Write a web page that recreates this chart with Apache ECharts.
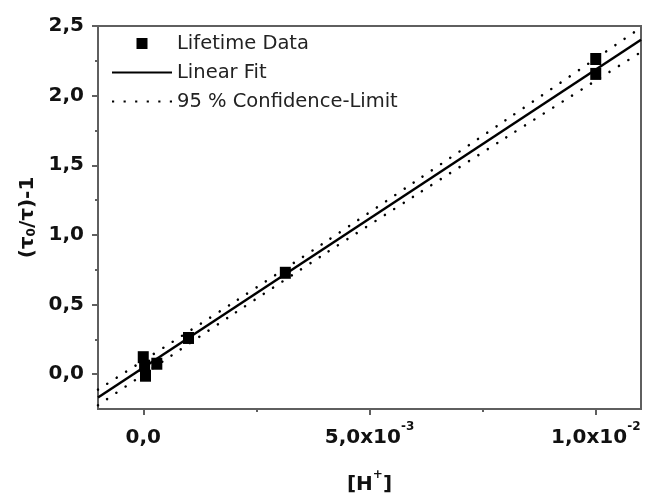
<!DOCTYPE html>
<html lang="en">
<head>
    <meta charset="UTF-8">
    <title>Lifetime fit</title>
    <script src="https://cdn.jsdelivr.net/npm/echarts@6/dist/echarts.min.js"></script>
    <style>
        html, body { margin: 0; padding: 0; background: #fff; }
        #main { width: 646px; height: 494px; }
    </style>
</head>
<body>
<div id="main"></div>
<script>
    // measured points (x = [H+], y = tau0/tau - 1)
    var dataX = [0, 0.00003, 0.00005, 0.0003, 0.001, 0.00314, 0.01, 0.01];
    var dataY = [0.122, 0.061, -0.011, 0.075, 0.26, 0.728, 2.263, 2.156];

    // fit line, read at both plot edges
    var fitX = [-0.001, 0.011];
    var fitY = [-0.167, 2.401];

    // 95 % limits
    var confX = [-0.001, 0, 0.002, 0.004, 0.006, 0.008, 0.01, 0.011];
    var confUpper = [-0.111, 0.097, 0.516, 0.944, 1.381, 1.822, 2.266, 2.489];
    var confLower = [-0.223, -0.003, 0.434, 0.862, 1.281, 1.696, 2.108, 2.313];

    var xTicks = [0, 0.005, 0.01];
    var xMinorTicks = [0.0025, 0.0075];
    var xTickLabels = ['0,0', '5,0x10{sup|-3}', '1,0x10{sup|-2}'];
    var yTicks = [0, 0.5, 1, 1.5, 2, 2.5];
    var yMinorTicks = [0.25, 0.75, 1.25, 1.75, 2.25];

    function zip(xs, ys) {
        var out = [];
        for (var i = 0; i < xs.length; i++) out.push([xs[i], ys[i]]);
        return out;
    }

    var axisColor = '#5f5f5f';
    var textColor = '#111';
    var font = 'DejaVu Sans';
    var supStyle = {fontFamily: font, fontWeight: 'bold', fontSize: 12, color: textColor, verticalAlign: 'top', lineHeight: 12};

    // legend glyphs: square, solid stroke, row of dots
    var iconSquare = 'path://M0,0L10,0L10,10L0,10Z';
    var iconSolid = 'path://M0,0h59v2.2h-59z';
    var iconDots = 'path://M0,0h2.2v2.2h-2.2z M11.7,0h2.2v2.2h-2.2z M23.4,0h2.2v2.2h-2.2z M35.1,0h2.2v2.2h-2.2z M46.8,0h2.2v2.2h-2.2z M58.5,0h2.2v2.2h-2.2z';

    var myChart = echarts.init(document.getElementById('main'), null, {renderer: 'canvas'});

    var option = {
        animation: false,
        backgroundColor: '#fff',
        grid: {
            left: 98, right: 5, top: 26, bottom: 85,
            show: true, borderColor: axisColor, borderWidth: 2,
            containLabel: false,
            outerBoundsMode: 'none'
        },
        legend: {
            orient: 'vertical',
            left: 107, top: 26,
            itemWidth: 60, itemHeight: 11, itemGap: 4,
            textStyle: {fontFamily: font, fontSize: 19.5, color: '#222', lineHeight: 25},
            data: [
                {name: 'Lifetime Data', icon: iconSquare, itemStyle: {color: '#000', opacity: 1}},
                {name: 'Linear Fit', icon: iconSolid, itemStyle: {color: '#000', opacity: 1}},
                {name: '95 % Confidence-Limit', icon: iconDots, itemStyle: {color: '#000', opacity: 1}}
            ]
        },
        xAxis: [{
            type: 'value',
            min: -0.001, max: 0.011,
            splitLine: {show: false},
            axisLine: {onZero: false, lineStyle: {color: axisColor, width: 2}},
            axisTick: {customValues: xTicks, length: 6, lineStyle: {color: axisColor, width: 2}},
            axisLabel: {
                customValues: xTicks,
                margin: 12,
                lineHeight: 34,
                fontFamily: font, fontWeight: 'bold', fontSize: 20, color: textColor,
                formatter: function (v) {
                    var i = xTicks.indexOf(v);
                    return i >= 0 ? xTickLabels[i] : '';
                },
                rich: {sup: supStyle}
            },
            name: '[H{sup|+}]',
            nameLocation: 'middle',
            nameGap: 60,
            nameTextStyle: {
                fontFamily: font, fontWeight: 'bold', fontSize: 20, color: textColor,
                lineHeight: 32,
                rich: {sup: supStyle}
            }
        }, {
            type: 'value',
            min: -0.001, max: 0.011,
            position: 'bottom',
            splitLine: {show: false},
            axisLine: {show: false, onZero: false},
            axisTick: {customValues: xMinorTicks, length: 3, lineStyle: {color: axisColor, width: 2}},
            axisLabel: {show: false}
        }],
        yAxis: [{
            type: 'value',
            min: -0.25, max: 2.5,
            splitLine: {show: false},
            axisLine: {onZero: false, lineStyle: {color: axisColor, width: 2}},
            axisTick: {customValues: yTicks, length: 6, lineStyle: {color: axisColor, width: 2}},
            axisLabel: {
                customValues: yTicks,
                margin: 14,
                fontFamily: font, fontWeight: 'bold', fontSize: 20, color: textColor,
                formatter: function (v) { return v.toFixed(1).replace('.', ','); }
            },
            name: '(τ{sub|0}/τ)-1',
            nameLocation: 'middle',
            nameGap: 60,
            nameTextStyle: {
                fontFamily: font, fontWeight: 'bold', fontSize: 20, color: textColor,
                rich: {
                    sub: {fontFamily: font, fontWeight: 'bold', fontSize: 12, color: textColor, verticalAlign: 'bottom', lineHeight: 12, padding: [10, 0, 0, 0]}
                }
            }
        }, {
            type: 'value',
            min: -0.25, max: 2.5,
            position: 'left',
            splitLine: {show: false},
            axisLine: {show: false, onZero: false},
            axisTick: {customValues: yMinorTicks, length: 3, lineStyle: {color: axisColor, width: 2}},
            axisLabel: {show: false}
        }],
        series: [{
            name: 'Lifetime Data',
            type: 'scatter',
            symbol: 'rect',
            symbolSize: [11, 12],
            itemStyle: {color: '#000', opacity: 1},
            data: zip(dataX, dataY),
            z: 5
        }, {
            name: 'Linear Fit',
            type: 'line',
            symbol: 'none',
            lineStyle: {color: '#000', width: 2.5},
            itemStyle: {color: '#000'},
            data: zip(fitX, fitY)
        }, {
            name: '95 % Confidence-Limit',
            type: 'line',
            symbol: 'none',
            smooth: 0.3,
            lineStyle: {color: '#000', width: 2.5, type: [0.1, 11], cap: 'round'},
            itemStyle: {color: '#000'},
            data: zip(confX, confUpper)
        }, {
            name: '95 % Confidence-Limit',
            type: 'line',
            symbol: 'none',
            smooth: 0.3,
            lineStyle: {color: '#000', width: 2.5, type: [0.1, 11], cap: 'round'},
            itemStyle: {color: '#000'},
            data: zip(confX, confLower)
        }]
    };

    myChart.setOption(option);
</script>
</body>
</html>
